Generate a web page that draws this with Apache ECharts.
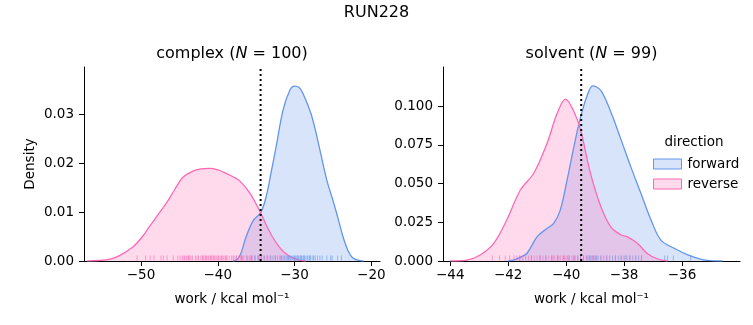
<!DOCTYPE html>
<html><head><meta charset="utf-8">
<script src="https://cdn.jsdelivr.net/npm/echarts@6/dist/echarts.min.js"></script>
<style>html,body{margin:0;padding:0;background:#fff}#c{width:753px;height:325px}</style>
</head><body><div id="c"></div>
<script>
// ---- data ----
const complexForwardKde = [[-38.0,0],[-37.5,0.0003],[-37.0,0.0015],[-36.3,0.0050],[-35.4,0.0082],[-34.4,0.0099],[-33.7,0.0131],[-33.0,0.0185],[-32.4,0.0233],[-31.5,0.0308],[-30.6,0.0349],[-30.0,0.0357],[-29.4,0.0354],[-28.9,0.0342],[-27.8,0.0298],[-26.7,0.0227],[-25.8,0.0165],[-25.0,0.0124],[-24.3,0.0085],[-23.7,0.0050],[-23.0,0.0020],[-22.4,0.0006],[-21.5,0.0001],[-21.0,0]];
const complexReverseKde = [[-57.0,0],[-55.5,0.0001],[-54.0,0.0004],[-52.8,0.0011],[-51.1,0.0028],[-49.9,0.0048],[-48.9,0.0070],[-47.8,0.0094],[-46.7,0.0118],[-45.6,0.0146],[-44.6,0.0170],[-43.3,0.0183],[-42.2,0.0188],[-41.1,0.0189],[-40.0,0.0186],[-38.9,0.0179],[-37.9,0.0171],[-37.1,0.0163],[-35.8,0.0138],[-34.6,0.0104],[-33.7,0.0074],[-32.9,0.0050],[-32.0,0.0029],[-31.2,0.0016],[-30.3,0.0007],[-29.4,0.0002],[-28.5,0]];
const solventForwardKde = [[-42.0,0],[-41.8,0.0008],[-41.6,0.0022],[-41.35,0.005],[-41.0,0.0157],[-40.66,0.021],[-40.43,0.0243],[-40.2,0.033],[-39.97,0.052],[-39.73,0.074],[-39.5,0.093],[-39.27,0.107],[-39.08,0.113],[-38.8,0.110],[-38.46,0.0963],[-38.1,0.078],[-37.77,0.0609],[-37.42,0.0437],[-37.07,0.0265],[-36.73,0.0135],[-36.27,0.0082],[-35.8,0.0039],[-35.34,0.0011],[-34.9,0.0001],[-34.6,0]];
const solventReverseKde = [[-44.0,0],[-43.43,0.0006],[-42.97,0.0039],[-42.5,0.0114],[-42.05,0.0265],[-41.58,0.0458],[-41.12,0.0566],[-40.66,0.0759],[-40.31,0.0953],[-40.02,0.1045],[-39.73,0.0963],[-39.5,0.0845],[-39.16,0.0566],[-38.8,0.035],[-38.46,0.0221],[-38.1,0.0168],[-37.9,0.0157],[-37.54,0.0114],[-37.2,0.0049],[-36.84,0.0013],[-36.5,0]];

const complexReverseRug = [-50.5,-49.4,-48.8,-48.3,-47.4,-47.1,-46.6,-45.8,-45.2,-44.9,-44.6,-44.4,-44.3,-44.1,-43.9,-43.8,-43.7,-43.5,-43.3,-42.9,-42.7,-42.5,-42.2,-42.0,-41.9,-41.8,-41.6,-41.5,-41.4,-41.2,-41.0,-40.9,-40.8,-40.6,-40.5,-40.4,-40.2,-40.0,-39.9,-39.7,-39.5,-39.4,-39.2,-39.0,-38.9,-38.8,-38.5,-38.2,-38.0,-37.9,-37.6,-37.3,-37.0,-36.8,-36.6,-36.2,-35.9,-35.7,-35.5,-35.1,-34.8,-34.6,-34.4,-34.0,-33.6,-33.2,-32.5,-31.8];
const complexForwardRug = [-37.6,-36.9,-36.2,-35.6,-35.2,-34.7,-34.3,-33.9,-33.5,-33.1,-32.8,-32.5,-32.2,-31.9,-31.7,-31.5,-31.3,-31.1,-30.9,-30.8,-30.7,-30.5,-30.3,-30.1,-30.0,-29.9,-29.7,-29.6,-29.5,-29.3,-29.2,-29.1,-28.9,-28.8,-28.7,-28.5,-28.3,-28.1,-28.0,-27.9,-27.6,-27.5,-27.3,-27.0,-26.7,-26.4,-25.8,-25.3,-25.1,-24.4,-23.9];
const solventReverseRug = [-42.55,-42.3,-42.1,-41.95,-41.8,-41.7,-41.6,-41.5,-41.4,-41.3,-41.2,-41.1,-41.0,-40.9,-40.8,-40.7,-40.6,-40.5,-40.45,-40.4,-40.3,-40.25,-40.2,-40.1,-40.05,-40.0,-39.95,-39.9,-39.8,-39.75,-39.7,-39.6,-39.5,-39.4,-39.3,-39.2,-39.1,-39.0,-38.8,-38.6,-38.3,-38.1,-37.95,-37.8,-37.6,-37.4];
const solventForwardRug = [-41.6,-41.2,-40.9,-40.7,-40.5,-40.3,-40.1,-39.9,-39.7,-39.6,-39.5,-39.4,-39.3,-39.25,-39.2,-39.15,-39.1,-39.05,-39.0,-38.95,-38.9,-38.8,-38.7,-38.6,-38.5,-38.4,-38.3,-38.2,-38.1,-38.0,-37.9,-37.8,-37.7,-37.6,-37.5,-37.4,-36.6,-36.5,-36.3,-35.7];

const complexMarker = -34.42;
const solventMarker = -39.48;

const complexXTicks = [-50,-40,-30,-20];
const solventXTicks = [-44,-42,-40,-38,-36];
const complexYTicks = [0,0.01,0.02,0.03];
const solventYTicks = [0,0.025,0.05,0.075,0.1];

const complexRange = {xmin:-57.42, xmax:-18.87, ymax:0.0396};
const solventRange = {xmin:-44.25, xmax:-34.0, ymax:0.1252};

// ---- chart ----
const FONT = 'DejaVu Sans';
const FS = 13.5;
const BLUE = '#6495ED', PINK = '#FF69B4';
const BLUE_FILL = 'rgba(100,149,237,0.25)', PINK_FILL = 'rgba(255,105,180,0.25)';
const minus = v => (v < 0 ? '\u2212' + String(Math.abs(v)) : String(v));

function xAx(gi, r, ticks) {
  return {
    type:'value', gridIndex:gi, min:r.xmin, max:r.xmax, splitLine:{show:false},
    axisLine:{show:true, onZero:false, lineStyle:{color:'#000', width:1}},
    axisTick:{show:true, length:5, customValues:ticks, lineStyle:{color:'#000', width:1}},
    axisLabel:{customValues:ticks, margin:7, color:'#000', fontSize:FS, fontFamily:FONT, formatter:minus},
    name:'work / kcal mol\u207B\u00B9', nameLocation:'middle', nameGap:31,
    nameTextStyle:{color:'#000', fontSize:FS, fontFamily:FONT}
  };
}
function yAx(gi, r, ticks, dec, withName) {
  const a = {
    type:'value', gridIndex:gi, min:0, max:r.ymax, splitLine:{show:false},
    axisLine:{show:true, lineStyle:{color:'#000', width:1}},
    axisTick:{show:true, length:5, customValues:ticks, lineStyle:{color:'#000', width:1}},
    axisLabel:{customValues:ticks, margin:10, color:'#000', fontSize:FS, fontFamily:FONT, formatter:v => v.toFixed(dec)}
  };
  if (withName) {
    a.name = 'Density'; a.nameLocation = 'middle'; a.nameGap = 47;
    a.nameTextStyle = {color:'#000', fontSize:FS, fontFamily:FONT};
  }
  return a;
}
function kde(name, gi, data, color, fill) {
  return {
    type:'line', name, xAxisIndex:gi, yAxisIndex:gi, data, smooth:0.35, symbol:'none',
    lineStyle:{color, width:1.3}, itemStyle:{color}, areaStyle:{color:fill, opacity:1}, z:2, silent:true
  };
}
function rug(gi, vals, color) {
  return {
    type:'scatter', name:'rug', xAxisIndex:gi, yAxisIndex:gi, data:vals.map(v => [v, 0]),
    symbol:'rect', symbolSize:[1,5], symbolOffset:[0,-3], itemStyle:{color, opacity:0.6}, z:3, silent:true
  };
}
function vline(gi, x, r) {
  return {
    type:'line', name:'marker', xAxisIndex:gi, yAxisIndex:gi, data:[[x,0],[x,r.ymax]], symbol:'none',
    lineStyle:{color:'#000', width:2, type:[2,3]}, z:5, silent:true
  };
}

const chart = echarts.init(document.getElementById('c'), null, {renderer:'canvas'});
const titleRich = {
  a:{fontSize:16, fontFamily:FONT, color:'#000'},
  i:{fontSize:16, fontFamily:FONT, fontStyle:'italic', color:'#000'}
};
chart.setOption({
  animation:false,
  backgroundColor:'#fff',
  grid:[
    {left:84, top:67, width:296, height:194},
    {left:443, top:67, width:297, height:194}
  ],
  xAxis:[xAx(0, complexRange, complexXTicks), xAx(1, solventRange, solventXTicks)],
  yAxis:[yAx(0, complexRange, complexYTicks, 2, true), yAx(1, solventRange, solventYTicks, 3, false)],
  legend:{
    left:648, top:152, orient:'vertical', icon:'rect', itemWidth:28, itemHeight:10, itemGap:6,
    selectedMode:false,
    textStyle:{fontSize:FS, fontFamily:FONT, color:'#000', padding:[0,0,0,1]},
    data:[
      {name:'forward', itemStyle:{color:BLUE_FILL, borderColor:BLUE, borderWidth:1}},
      {name:'reverse', itemStyle:{color:PINK_FILL, borderColor:PINK, borderWidth:1}}
    ]
  },
  graphic:[
    {type:'text', x:376.5, y:13, style:{text:'RUN228', font:'16px "DejaVu Sans"', fill:'#000', align:'center', verticalAlign:'middle'}},
    {type:'text', x:232, y:54, style:{text:'{a|complex (}{i|N}{a| = 100)}', rich:titleRich, align:'center', verticalAlign:'middle'}},
    {type:'text', x:591.5, y:54, style:{text:'{a|solvent (}{i|N}{a| = 99)}', rich:titleRich, align:'center', verticalAlign:'middle'}},
    {type:'text', x:694, y:142, style:{text:'direction', font:'13.5px "DejaVu Sans"', fill:'#000', align:'center', verticalAlign:'middle'}}
  ],
  series:[
    kde('forward', 0, complexForwardKde, BLUE, BLUE_FILL),
    kde('reverse', 0, complexReverseKde, PINK, PINK_FILL),
    kde('forward', 1, solventForwardKde, BLUE, BLUE_FILL),
    kde('reverse', 1, solventReverseKde, PINK, PINK_FILL),
    rug(0, complexForwardRug, BLUE),
    rug(0, complexReverseRug, PINK),
    rug(1, solventForwardRug, BLUE),
    rug(1, solventReverseRug, PINK),
    vline(0, complexMarker, complexRange),
    vline(1, solventMarker, solventRange)
  ]
});
</script></body></html>
